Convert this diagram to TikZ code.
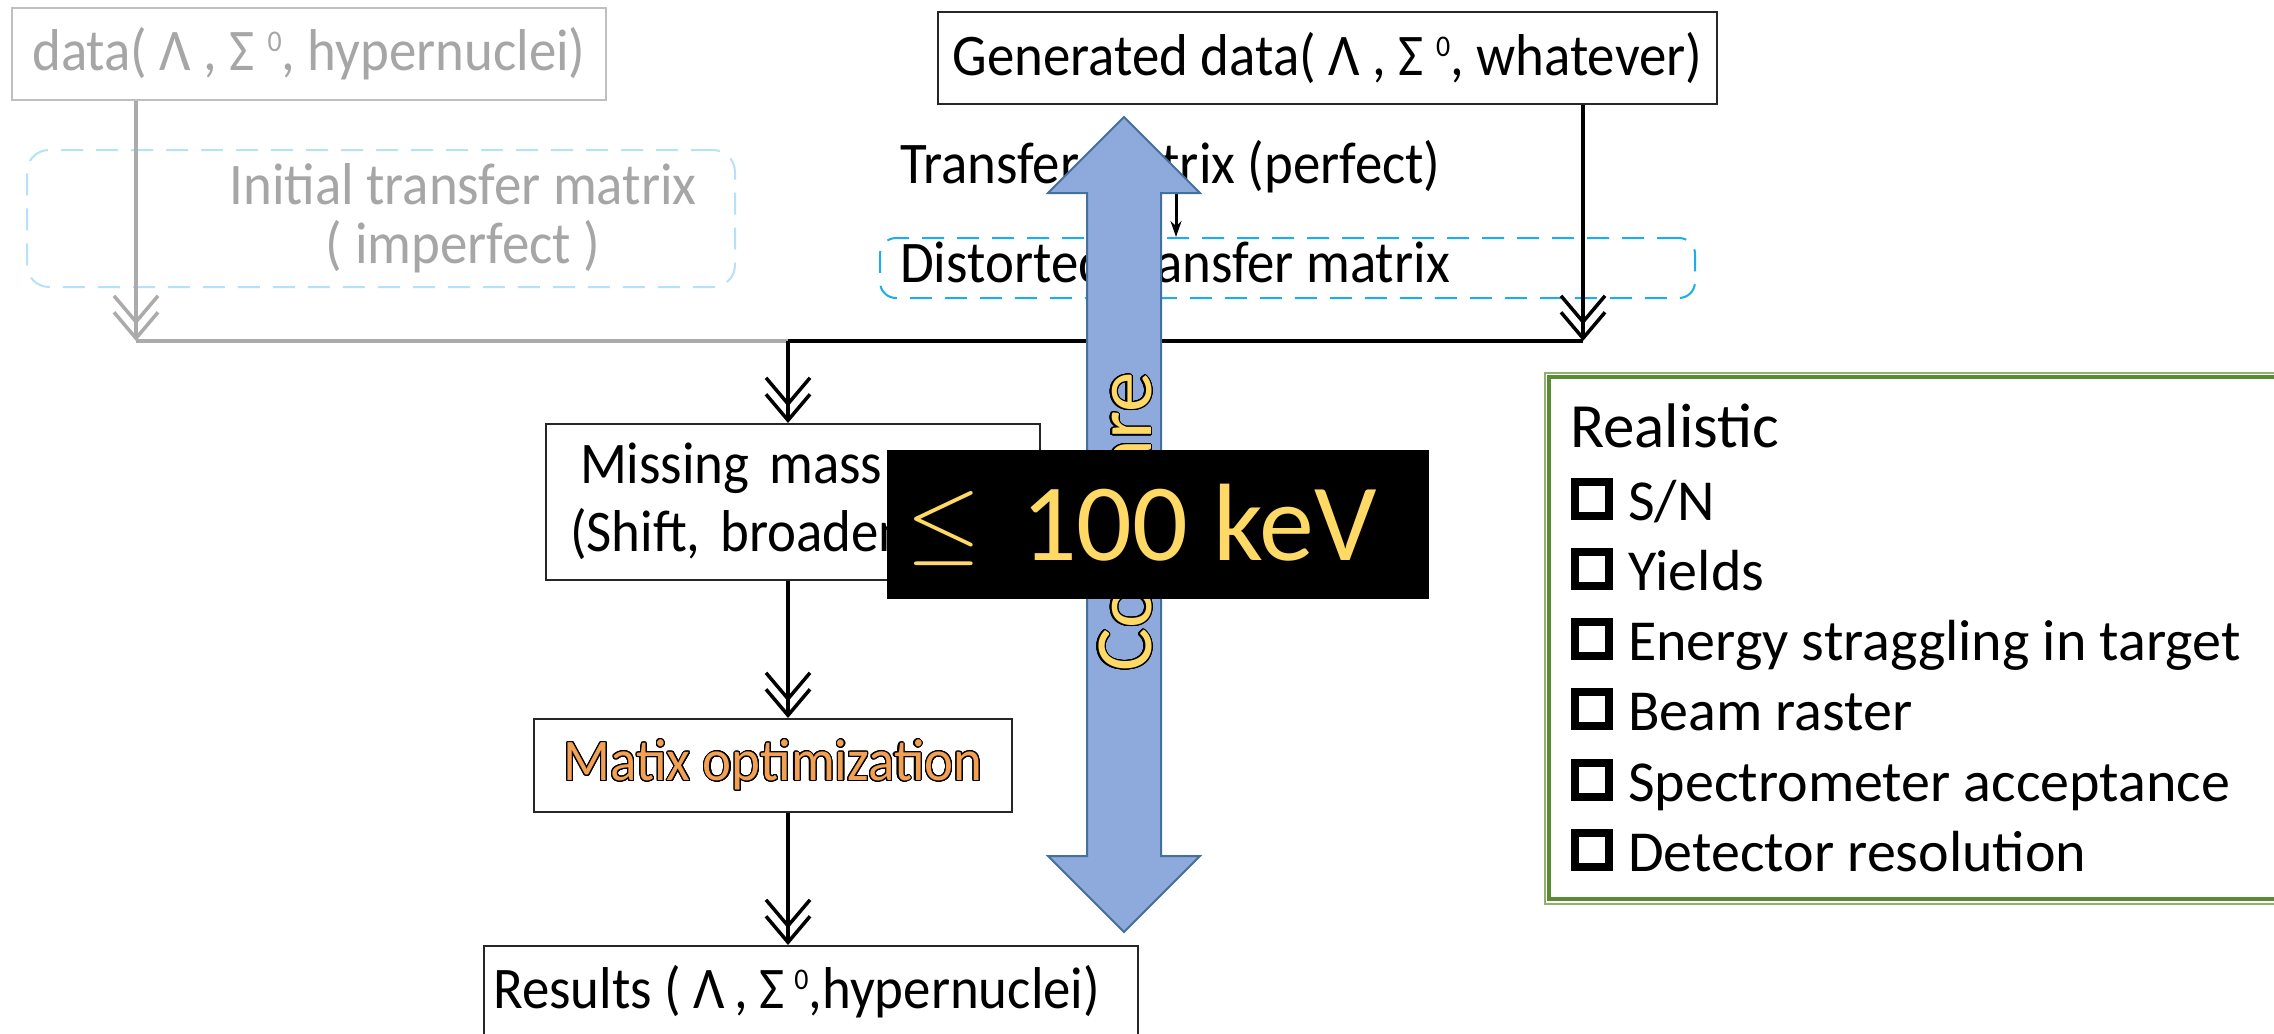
\documentclass[tikz,border=0pt]{standalone}
\usepackage{graphicx}
\usepackage{fontspec}
\setmainfont{Carlito}
\newfontfamily\flowfont[FakeStretch=0.93]{Carlito}
\usepackage{contour}
\contournumber{24}
\usetikzlibrary{arrows.meta}
\definecolor{gtext}{HTML}{A6A6A6}
\definecolor{gline}{HTML}{ABABAB}
\definecolor{gbox}{HTML}{BFBFBF}
\definecolor{lblue}{HTML}{B7E1F6}
\definecolor{cblue}{HTML}{1AAEEA}
\definecolor{afill}{HTML}{8EA9DB}
\definecolor{aedge}{HTML}{41719C}
\definecolor{ylw}{HTML}{FFD966}
\definecolor{orng}{HTML}{F2A154}
\definecolor{gouter}{HTML}{8CB56A}
\definecolor{ginner}{HTML}{5A8A36}
\definecolor{bxline}{HTML}{262626}
\newcommand\supz{\raisebox{19pt}{\fontsize{30}{30}\selectfont 0}}
\begin{document}
\begin{tikzpicture}[x=1pt,y=-1pt,
  flowtxt/.style={font=\flowfont\fontsize{59}{68}\selectfont},
  fbox/.style={draw=bxline, line width=2pt, inner sep=0pt, flowtxt},
  chev/.style={line width=3.5pt, -{Straight Barb[length=26pt,width=44pt,line width=3.5pt,sharp,sep=-14pt]Straight Barb[length=26pt,width=44pt,line width=3.5pt,sharp]}},
  dashbox/.style={line width=2pt, dash pattern=on 22pt off 13pt, inner sep=0pt},
  itemtxt/.style={anchor=base west, inner sep=0pt, font=\fontsize{58}{58}\selectfont},
  chk/.style={draw=black, line width=8pt, minimum size=34pt, inner sep=0pt},
  plain/.style={inner sep=0pt}
]
\useasboundingbox (0,0) rectangle (2274,1033);
\fill[white] (0,0) rectangle (2274,1033);

% ---------- coordinates for connectors
\coordinate (gx) at (136,0);
\coordinate (jl) at (136,341);
\coordinate (jm) at (788,341);
\coordinate (jr) at (1583,341);
\coordinate (rx) at (1583,0);
\coordinate (cx) at (788,0);
\coordinate (px) at (1176,0);

% ---------- gray part
\node[draw=gbox, line width=2pt, inner sep=0pt, minimum width=594, minimum height=92, text=gtext, flowtxt] (data) at (309,54)
  {data( Λ , Σ \supz, hypernuclei)};
\node[draw=lblue, dashbox, rounded corners=22pt, minimum width=708, minimum height=137] (init) at (381,218.5) {};
\node[plain, text=gtext, align=center, font=\flowfont\fontsize{59}{59}\selectfont] (inittxt) at (463,218)
  {Initial transfer matrix\\( imperfect )};

% ---------- right top part
\node[fbox, minimum width=779, minimum height=92] (gen) at (1327.5,58)
  {Generated data( Λ , Σ \supz, whatever)};
\node[plain, anchor=base west, flowtxt] (perf) at (900,183) {Transfer matrix (perfect)};
\node[draw=cblue, dashbox, rounded corners=16pt, minimum width=815, minimum height=60] (dist) at (1287.5,268) {};
\node[plain, anchor=base west, flowtxt] (disttxt) at (900,282) {Distorted transfer matrix};

% ---------- flow boxes
\node[fbox, minimum height=156, text width=446, inner xsep=24pt, align=left] (mm) at (793,502)
  {\hspace*{10pt}Missing mass\\(Shift, broadening)};
\node[fbox, minimum width=478, minimum height=93] (matix) at (773,765.5)
  {\contourlength{1.1pt}\textcolor{orng}{\contour{black}{Matix optimization}}};
\node[fbox, anchor=north west, minimum width=654, minimum height=120] (res) at (483,945) {};
\node[plain, anchor=base west, flowtxt] (restxt) at (493,1008)
  {Results (\hspace{12pt}Λ\hspace{10pt},\hspace{11pt}Σ\hspace{10pt}\supz,hypernuclei)};

% ---------- connectors
\draw[chev, draw=gline] (data.south -| gx) -- (jl);
\draw[gline, line width=3.5pt] (jl) -- (jm);
\draw[black, line width=3.5pt] (jm) -- (jr);
\draw[chev] (gen.south -| rx) -- (jr);
\draw[chev] (jm) -- (mm.north -| cx);
\draw[chev] (mm.south -| cx) -- (matix.north -| cx);
\draw[chev] (matix.south -| cx) -- (res.north -| cx);
\draw[line width=3pt, -{Stealth[length=16pt,width=11pt]}] (perf.south -| px) -- (dist.north -| px);

% ---------- realistic box
\node[draw=gouter, line width=1.5pt, inner sep=0pt, minimum width=760, minimum height=531] (realout) at (1925,638.5) {};
\node[draw=ginner, line width=3.5pt, inner sep=0pt, minimum width=760, minimum height=522] (real) at (1929,638) {};
\node[plain, anchor=base west, font=\fontsize{63}{63}\selectfont] (rtitle) at (1570,447) {Realistic};
\node[chk] (k1) at (1592,499) {};
\node[itemtxt] (t1) at (1628,520) {S/N};
\node[chk] (k2) at (1592,569) {};
\node[itemtxt] (t2) at (1628,590) {Yields};
\node[chk] (k3) at (1592,639) {};
\node[itemtxt] (t3) at (1628,660) {Energy straggling in target};
\node[chk] (k4) at (1592,709) {};
\node[itemtxt] (t4) at (1628,730) {Beam raster};
\node[chk] (k5) at (1592,780) {};
\node[itemtxt] (t5) at (1628,801) {Spectrometer acceptance};
\node[chk] (k6) at (1592,850) {};
\node[itemtxt] (t6) at (1628,871) {Detector resolution};

% ---------- big compare arrow
\draw[fill=afill, draw=aedge, line width=2pt, line join=miter]
  (1124,117) -- (1200,193) -- (1161,193) -- (1161,856) -- (1200,856) -- (1124,932)
  -- (1048,856) -- (1087,856) -- (1087,193) -- (1048,193) -- cycle;
\node[plain, rotate=90, anchor=base, font=\fontsize{81}{81}\selectfont] (cmp) at (1151,522)
  {\contourlength{1.2pt}\textcolor{ylw}{\contour{black}{Compare}}};

% ---------- black label
\node[fill=black, inner sep=0pt, minimum width=542, minimum height=149] (kev) at (1158,524.5) {};
\node[plain, anchor=base west, text=ylw] (leq) at (906,552) {\scalebox{9.6}{$\leq$}};
\node[plain, anchor=base west, text=ylw, font=\fontsize{110}{110}\selectfont] (kevtxt) at (1021,560) {100 keV};
\end{tikzpicture}
\end{document}
